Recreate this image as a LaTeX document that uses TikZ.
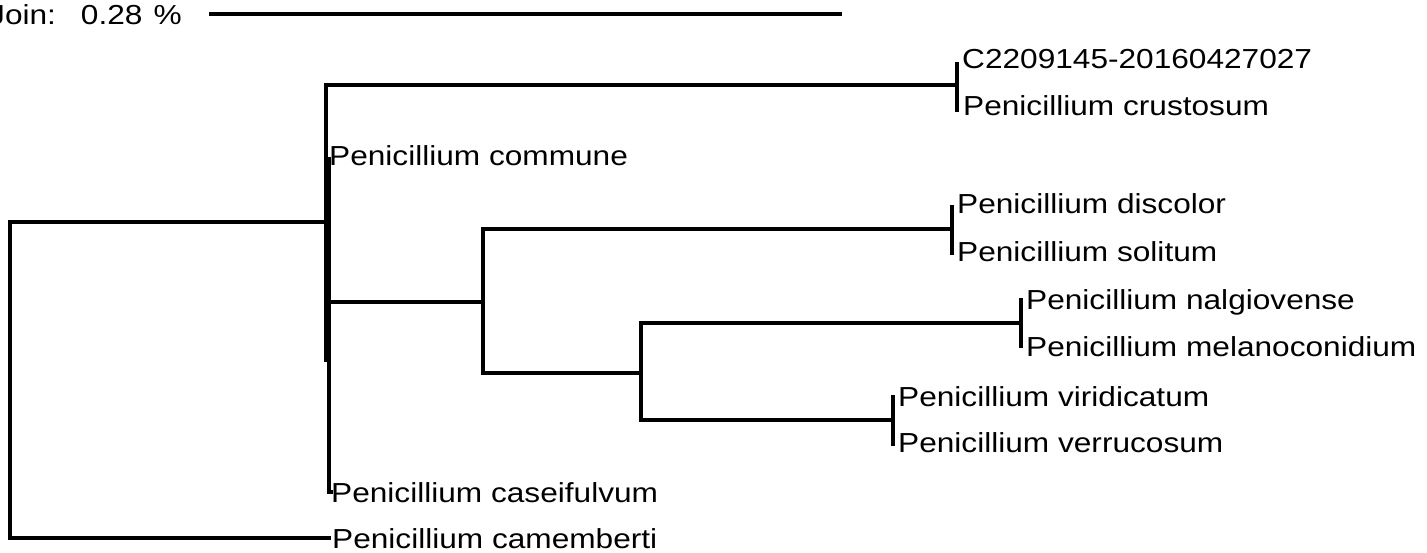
\documentclass[tikz,border=0pt]{standalone}
\usepackage{fontspec}
\setmainfont[FakeStretch=1.15]{Liberation Sans}
\begin{document}
\begin{tikzpicture}[x=1pt, y=-1pt,
  branch/.style={line width=4pt, line join=miter},
  leaf/.style={anchor=base west, inner sep=0pt, font=\fontsize{27.5}{31}\selectfont}]
\useasboundingbox (0,0) rectangle (1427,553);

% scale bar
\coordinate (sbL) at (209,14);
\coordinate (sbR) at (842,14);
\draw[branch] (sbL) -- (sbR);
\node[leaf] (sblabel) at (-11,25) {Join:\hspace{25pt}0.28\hspace{11pt}\%};

% internal nodes
\coordinate (R)  at (10,380);
\coordinate (n1) at (326,222);
\coordinate (n1b) at (326,362);
\coordinate (n1c) at (329,157);
\coordinate (n2) at (483,302);
\coordinate (n3) at (641,373);

% tips
\coordinate (c1) at (957,85);
\coordinate (c2) at (952,229);
\coordinate (c3) at (1021,323);
\coordinate (c4) at (893,420);
\coordinate (casTip) at (333,492);
\coordinate (camTip) at (331,538);

% branches
\draw[branch] (n1) -| (R) |- (camTip);
\draw[branch] (c1) -| (n1) -- (n1b);
\draw[branch] (n1c) |- (casTip);
\draw[branch] (n2) -- (n2 -| n1);
\draw[branch] (c2) -| (n2) |- (n3);
\draw[branch] (c3) -| (n3) |- (c4);

% terminal ticks
\draw[branch] ([yshift=-27pt]c1) -- ([yshift=23pt]c1);
\draw[branch] ([yshift=-26pt]c2) -- ([yshift=24pt]c2);
\draw[branch] ([yshift=-25pt]c3) -- ([yshift=25pt]c3);
\draw[branch] ([yshift=-26pt]c4) -- ([yshift=25pt]c4);

% labels
\node[leaf] (L1) at (962,69)  {C2209145-20160427027};
\node[leaf] (L2) at (963,116) {Penicillium crustosum};
\node[leaf] (L3) at (329,166) {Penicillium commune};
\node[leaf] (L4) at (957,214) {Penicillium discolor};
\node[leaf] (L5) at (957,262) {Penicillium solitum};
\node[leaf] (L6) at (1026,310) {Penicillium nalgiovense};
\node[leaf] (L7) at (1026,356) {Penicillium melanoconidium};
\node[leaf] (L8) at (898,406) {Penicillium viridicatum};
\node[leaf] (L9) at (898,452) {Penicillium verrucosum};
\node[leaf] (L10) at (331,502) {Penicillium caseifulvum};
\node[leaf] (L11) at (332,548) {Penicillium camemberti};
\end{tikzpicture}
\end{document}
